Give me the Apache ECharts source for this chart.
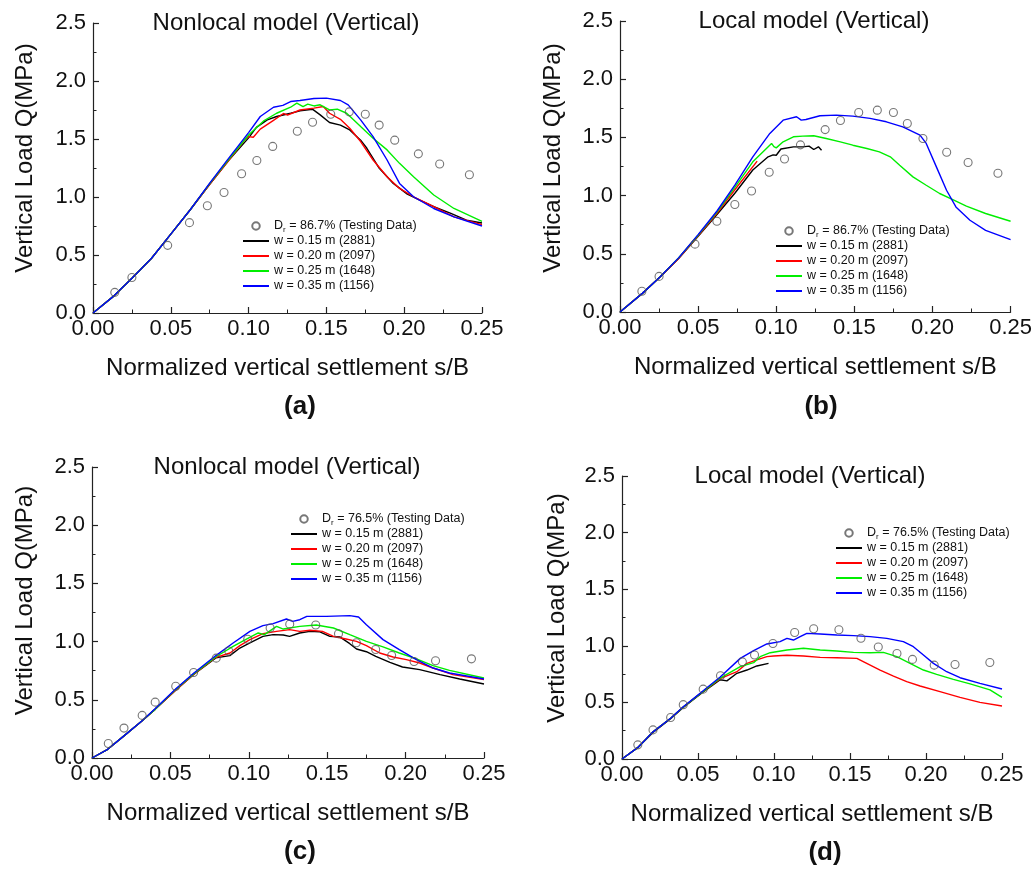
<!DOCTYPE html>
<html>
<head>
<meta charset="utf-8">
<script src="https://cdn.jsdelivr.net/npm/echarts@6/dist/echarts.min.js"></script>
<style>html,body{margin:0;padding:0;background:#fff;}#chart{width:1035px;height:870px;}</style>
</head>
<body>
<div id="chart"></div>
<script>
// ---------- DATA ----------
var xTicks = [0, 0.05, 0.10, 0.15, 0.20, 0.25];
var yTicks = [0, 0.5, 1.0, 1.5, 2.0, 2.5];
var seriesNames = ['w = 0.15 m (2881)', 'w = 0.20 m (2097)', 'w = 0.25 m (1648)', 'w = 0.35 m (1156)'];
var testNameA = 'Dr = 86.7% (Testing Data)';
var testNameC = 'Dr = 76.5% (Testing Data)';
var panelTitles = ['Nonlocal model (Vertical)', 'Local model (Vertical)', 'Nonlocal model (Vertical)', 'Local model (Vertical)'];
var panelLabels = ['(a)', '(b)', '(c)', '(d)'];
var xAxisName = 'Normalized vertical settlement s/B';
var yAxisName = 'Vertical Load Q(MPa)';

// Testing data, Dr = 86.7 %
var testA_x = [0.014,0.025,0.048,0.062,0.0735,0.0842,0.0955,0.1053,0.1155,0.1313,0.1411,0.1528,0.1647,0.175,0.1839,0.1939,0.2091,0.2228,0.2419];
var testA_y = [0.178,0.306,0.583,0.779,0.924,1.039,1.2,1.315,1.436,1.567,1.645,1.714,1.734,1.714,1.62,1.49,1.372,1.284,1.192];
// Testing data, Dr = 76.5 %
var testC_x = [0.0104,0.0204,0.032,0.0403,0.0534,0.0648,0.0792,0.0872,0.0993,0.1136,0.1261,0.1427,0.1572,0.1686,0.1809,0.1911,0.2054,0.2191,0.242];
var testC_y = [0.125,0.257,0.366,0.48,0.617,0.735,0.858,0.919,1.02,1.117,1.15,1.142,1.067,0.99,0.932,0.88,0.829,0.835,0.852];

// (a) Nonlocal, Dr 86.7
var a_w015 = [[0,0],[0.0137,0.15],[0.025,0.30],[0.0375,0.47],[0.05,0.68],[0.0625,0.89],[0.075,1.11],[0.0875,1.32],[0.1,1.51],[0.105,1.60],[0.112,1.665],[0.118,1.694],[0.127,1.722],[0.133,1.743],[0.141,1.757],[0.146,1.708],[0.152,1.642],[0.159,1.62],[0.165,1.578],[0.172,1.49],[0.176,1.42],[0.184,1.247],[0.193,1.117],[0.202,1.025],[0.21,0.974],[0.219,0.916],[0.23,0.858],[0.24,0.80],[0.25,0.776]];
var a_w020 = [[0,0],[0.0137,0.15],[0.025,0.30],[0.0375,0.47],[0.05,0.68],[0.0625,0.89],[0.075,1.11],[0.0875,1.32],[0.098,1.50],[0.1,1.52],[0.103,1.515],[0.1075,1.585],[0.116,1.66],[0.1224,1.72],[0.125,1.705],[0.133,1.75],[0.142,1.766],[0.148,1.78],[0.152,1.722],[0.159,1.67],[0.165,1.593],[0.172,1.478],[0.18,1.319],[0.189,1.175],[0.197,1.074],[0.206,1.002],[0.219,0.916],[0.232,0.829],[0.25,0.762]];
var a_w025 = [[0,0],[0.0137,0.15],[0.025,0.30],[0.0375,0.47],[0.05,0.68],[0.0625,0.89],[0.075,1.115],[0.0875,1.33],[0.1,1.535],[0.11,1.659],[0.118,1.722],[0.127,1.774],[0.131,1.809],[0.135,1.78],[0.138,1.80],[0.142,1.785],[0.146,1.795],[0.152,1.751],[0.157,1.757],[0.163,1.722],[0.172,1.607],[0.18,1.506],[0.189,1.406],[0.197,1.29],[0.206,1.175],[0.219,1.017],[0.232,0.901],[0.25,0.79]];
var a_w035 = [[0,0],[0.0137,0.15],[0.025,0.30],[0.0375,0.47],[0.05,0.68],[0.0625,0.89],[0.075,1.12],[0.0875,1.34],[0.1,1.555],[0.1075,1.694],[0.116,1.774],[0.122,1.79],[0.127,1.823],[0.133,1.832],[0.142,1.849],[0.15,1.852],[0.159,1.832],[0.164,1.794],[0.172,1.665],[0.18,1.521],[0.189,1.319],[0.197,1.117],[0.206,1.002],[0.219,0.901],[0.232,0.829],[0.25,0.75]];

// (b) Local, Dr 86.7
var b_w015 = [[0,0],[0.0143,0.16],[0.0256,0.30],[0.0375,0.46],[0.05,0.65],[0.0622,0.84],[0.0735,1.02],[0.085,1.22],[0.0948,1.333],[0.098,1.35],[0.1,1.347],[0.103,1.40],[0.111,1.419],[0.117,1.419],[0.121,1.425],[0.124,1.396],[0.127,1.419],[0.129,1.39]];
var b_w020 = [[0,0],[0.0143,0.16],[0.0256,0.30],[0.0375,0.46],[0.05,0.655],[0.0622,0.85],[0.0735,1.05],[0.0878,1.296]];
var b_w025 = [[0,0],[0.0143,0.16],[0.0256,0.30],[0.0375,0.465],[0.05,0.66],[0.0622,0.86],[0.0735,1.07],[0.085,1.29],[0.097,1.448],[0.0985,1.42],[0.1,1.41],[0.1044,1.462],[0.111,1.505],[0.117,1.511],[0.124,1.514],[0.132,1.491],[0.141,1.462],[0.149,1.433],[0.158,1.405],[0.166,1.376],[0.173,1.333],[0.179,1.261],[0.1875,1.161],[0.196,1.089],[0.2046,1.018],[0.213,0.966],[0.2217,0.909],[0.234,0.846],[0.25,0.78]];
var b_w035 = [[0,0],[0.0143,0.16],[0.0256,0.30],[0.0375,0.465],[0.05,0.665],[0.0622,0.87],[0.0735,1.09],[0.085,1.333],[0.0959,1.534],[0.1044,1.648],[0.113,1.677],[0.116,1.648],[0.119,1.654],[0.128,1.686],[0.1385,1.691],[0.149,1.683],[0.16,1.663],[0.1705,1.634],[0.181,1.591],[0.192,1.52],[0.196,1.448],[0.2025,1.247],[0.209,1.046],[0.215,0.903],[0.224,0.788],[0.234,0.702],[0.25,0.622]];

// (c) Nonlocal, Dr 76.5
var c_w015 = [[0,0],[0.01,0.075],[0.0204,0.19],[0.032,0.32],[0.0404,0.42],[0.0535,0.585],[0.065,0.72],[0.079,0.86],[0.0879,0.88],[0.0943,0.945],[0.1007,0.988],[0.109,1.045],[0.1155,1.06],[0.122,1.057],[0.126,1.045],[0.1325,1.074],[0.139,1.088],[0.145,1.085],[0.1517,1.045],[0.158,1.04],[0.1644,0.982],[0.1687,0.936],[0.175,0.913],[0.181,0.873],[0.19,0.822],[0.198,0.782],[0.209,0.759],[0.222,0.716],[0.2345,0.679],[0.25,0.636]];
var c_w020 = [[0,0],[0.01,0.075],[0.0204,0.19],[0.032,0.32],[0.0404,0.42],[0.0535,0.585],[0.065,0.72],[0.079,0.865],[0.088,0.902],[0.0943,0.965],[0.1007,1.017],[0.109,1.068],[0.1177,1.088],[0.126,1.103],[0.1325,1.088],[0.139,1.097],[0.147,1.088],[0.154,1.045],[0.162,1.022],[0.1687,1.002],[0.175,0.965],[0.1835,0.902],[0.192,0.868],[0.2005,0.845],[0.209,0.816],[0.2175,0.773],[0.2302,0.716],[0.25,0.673]];
var c_w025 = [[0,0],[0.01,0.075],[0.0204,0.19],[0.032,0.32],[0.0404,0.42],[0.0535,0.59],[0.065,0.725],[0.079,0.87],[0.09,0.959],[0.0985,1.022],[0.106,1.074],[0.11,1.06],[0.1177,1.131],[0.122,1.108],[0.1325,1.131],[0.143,1.143],[0.154,1.117],[0.1644,1.06],[0.175,1.002],[0.1856,0.954],[0.196,0.902],[0.2069,0.851],[0.2175,0.793],[0.228,0.753],[0.25,0.687]];
var c_w035 = [[0,0],[0.01,0.075],[0.0204,0.19],[0.032,0.32],[0.0404,0.425],[0.0535,0.595],[0.065,0.73],[0.079,0.88],[0.09,0.988],[0.1007,1.088],[0.109,1.137],[0.1155,1.154],[0.124,1.194],[0.128,1.174],[0.1325,1.188],[0.137,1.217],[0.1495,1.217],[0.1644,1.223],[0.17,1.211],[0.175,1.145],[0.1856,1.017],[0.196,0.931],[0.2069,0.845],[0.2175,0.773],[0.228,0.73],[0.25,0.679]];

// (d) Local, Dr 76.5
var d_w015 = [[0,0],[0.0103,0.1],[0.0204,0.235],[0.032,0.355],[0.0403,0.455],[0.0532,0.59],[0.0646,0.70],[0.069,0.69],[0.0756,0.757],[0.0822,0.786],[0.0887,0.822],[0.0964,0.845]];
var d_w020 = [[0,0],[0.0103,0.1],[0.0204,0.24],[0.032,0.36],[0.0403,0.46],[0.0532,0.595],[0.0646,0.71],[0.0756,0.771],[0.0822,0.845],[0.0887,0.875],[0.0953,0.904],[0.0997,0.91],[0.1085,0.916],[0.1194,0.91],[0.1304,0.898],[0.1413,0.895],[0.1545,0.889],[0.161,0.845],[0.1698,0.786],[0.1786,0.733],[0.1873,0.683],[0.1961,0.645],[0.2092,0.595],[0.2224,0.545],[0.2355,0.5],[0.25,0.468]];
var d_w025 = [[0,0],[0.0103,0.1],[0.0204,0.24],[0.032,0.36],[0.0403,0.46],[0.0532,0.595],[0.0646,0.715],[0.0778,0.816],[0.0866,0.851],[0.0909,0.904],[0.0975,0.939],[0.1085,0.963],[0.1194,0.978],[0.1304,0.963],[0.1413,0.954],[0.1523,0.942],[0.1632,0.939],[0.172,0.942],[0.1808,0.904],[0.1895,0.845],[0.1983,0.786],[0.207,0.748],[0.218,0.704],[0.229,0.663],[0.2421,0.61],[0.25,0.545]];
var d_w035 = [[0,0],[0.0103,0.1],[0.0204,0.24],[0.032,0.36],[0.0403,0.462],[0.0532,0.6],[0.0646,0.725],[0.0778,0.889],[0.0866,0.957],[0.0953,1.016],[0.104,1.037],[0.1085,1.066],[0.1128,1.051],[0.1172,1.081],[0.1216,1.11],[0.1304,1.104],[0.1413,1.095],[0.1523,1.09],[0.1632,1.081],[0.1742,1.066],[0.1851,1.037],[0.1917,0.992],[0.1983,0.919],[0.2049,0.845],[0.2136,0.771],[0.2224,0.718],[0.2355,0.668],[0.25,0.618]];

// ---------- LAYOUT / STYLE ----------
var FONT = '"Liberation Sans", Arial, Helvetica, sans-serif';
var lineColors = ['#000000', '#ff0000', '#00ee00', '#0000ff'];
var panels = [
  {grid:{left:93, top:23, width:389, height:290}, title:[286,23], label:[300,407], yGap:56, yShift:20, legend:[242,218.5],
   test:[testA_x, testA_y], testName:testNameA, curves:[a_w015,a_w020,a_w025,a_w035]},
  {grid:{left:620, top:21, width:391, height:291}, title:[814,21], label:[821,407], yGap:55, yShift:17, legend:[775,223.5],
   test:[testA_x, testA_y], testName:testNameA, curves:[b_w015,b_w020,b_w025,b_w035]},
  {grid:{left:92, top:467, width:392, height:291}, title:[287,467], label:[300,852], yGap:55, yShift:24, legend:[290,511.5],
   test:[testC_x, testC_y], testName:testNameC, curves:[c_w015,c_w020,c_w025,c_w035]},
  {grid:{left:622, top:476, width:380, height:283}, title:[810,476], label:[825,853], yGap:53, yShift:19, legend:[835,525.5],
   test:[testC_x, testC_y], testName:testNameC, curves:[d_w015,d_w020,d_w025,d_w035]}
];

var option = {
  backgroundColor: '#ffffff',
  animation: false,
  textStyle: {fontFamily: FONT, color: '#000'},
  grid: [], xAxis: [], yAxis: [], series: [], title: [], legend: [], graphic: []
};

panels.forEach(function (p, i) {
  option.grid.push(Object.assign({containLabel: false}, p.grid));
  option.xAxis.push({
    type: 'value', gridIndex: i, min: xTicks[0], max: xTicks[xTicks.length - 1], interval: xTicks[1] - xTicks[0],
    name: xAxisName, nameLocation: 'middle', nameGap: 43,
    nameTextStyle: {fontSize: 24, fontFamily: FONT, color: '#111'},
    axisLine: {show: true, onZero: false, lineStyle: {color: '#222', width: 1.2}},
    axisTick: {show: true, inside: true, length: 6, lineStyle: {color: '#222', width: 1.2}},
    minorTick: {show: true, splitNumber: 2, length: 3.5, lineStyle: {color: '#222', width: 1}},
    axisLabel: {fontSize: 22, fontFamily: FONT, color: '#111', margin: 5, formatter: function (v) { return v.toFixed(2); }},
    splitLine: {show: false}
  });
  option.yAxis.push({
    type: 'value', gridIndex: i, min: yTicks[0], max: yTicks[yTicks.length - 1], interval: yTicks[1] - yTicks[0],
    name: yAxisName, nameLocation: 'middle', nameGap: p.yGap,
    nameTextStyle: {fontSize: 24, fontFamily: FONT, color: '#111', padding: [0, 0, 0, p.yShift]},
    axisLine: {show: true, onZero: false, lineStyle: {color: '#222', width: 1.2}},
    axisTick: {show: true, inside: true, length: 6, lineStyle: {color: '#222', width: 1.2}},
    minorTick: {show: true, splitNumber: 2, length: 3.5, lineStyle: {color: '#222', width: 1}},
    axisLabel: {fontSize: 22, fontFamily: FONT, color: '#111', margin: 7, formatter: function (v) { return v.toFixed(1); }},
    splitLine: {show: false}
  });
  p.curves.forEach(function (c, k) {
    option.series.push({
      type: 'line', name: seriesNames[k], xAxisIndex: i, yAxisIndex: i, data: c,
      symbol: 'none', showSymbol: false, smooth: false, z: 2 + k,
      lineStyle: {color: lineColors[k], width: 1.4}, itemStyle: {color: lineColors[k]}
    });
  });
  var pts = p.test[0].map(function (x, j) { return [x, p.test[1][j]]; });
  option.series.push({
    type: 'scatter', name: p.testName, xAxisIndex: i, yAxisIndex: i, data: pts,
    symbol: 'circle', symbolSize: 8, z: 10,
    itemStyle: {color: 'rgba(255,255,255,0)', borderColor: '#555', borderWidth: 1.1}
  });
  option.title.push({
    text: panelTitles[i], left: p.title[0], top: p.title[1], textAlign: 'center', textVerticalAlign: 'middle', padding: 0,
    textStyle: {fontSize: 24, fontWeight: 'normal', fontFamily: FONT, color: '#111'}
  });
  var legendData = [{name: p.testName}].concat(seriesNames.map(function (n) {
    return {name: n, itemStyle: {opacity: 0, borderWidth: 0}};
  }));
  option.legend.push({
    orient: 'vertical', left: p.legend[0], top: p.legend[1], padding: 0, itemGap: 0,
    itemWidth: 26, itemHeight: 7.5, selectedMode: false,
    data: legendData,
    formatter: function (name) {
      if (name.indexOf('Dr') === 0) { return '{a|D}{s|r}{a|' + name.slice(2) + '}'; }
      return '{a|' + name + '}';
    },
    textStyle: {fontSize: 12.5, fontFamily: FONT, color: '#111', lineHeight: 15,
      rich: {a: {fontSize: 12.5, fontFamily: FONT, color: '#111', lineHeight: 15},
             s: {fontSize: 8, fontFamily: FONT, color: '#111', lineHeight: 15, verticalAlign: 'bottom', padding: [6, 0, 0, 0]}}}
  });
  option.graphic.push({
    type: 'text', x: p.label[0], y: p.label[1], silent: true,
    style: {text: panelLabels[i], fontSize: 26, fontWeight: 'bold', fontFamily: FONT, fill: '#111', align: 'center', verticalAlign: 'middle'}
  });
});

var chart = echarts.init(document.getElementById('chart'), null, {renderer: 'canvas'});
chart.setOption(option);
</script>
</body>
</html>
